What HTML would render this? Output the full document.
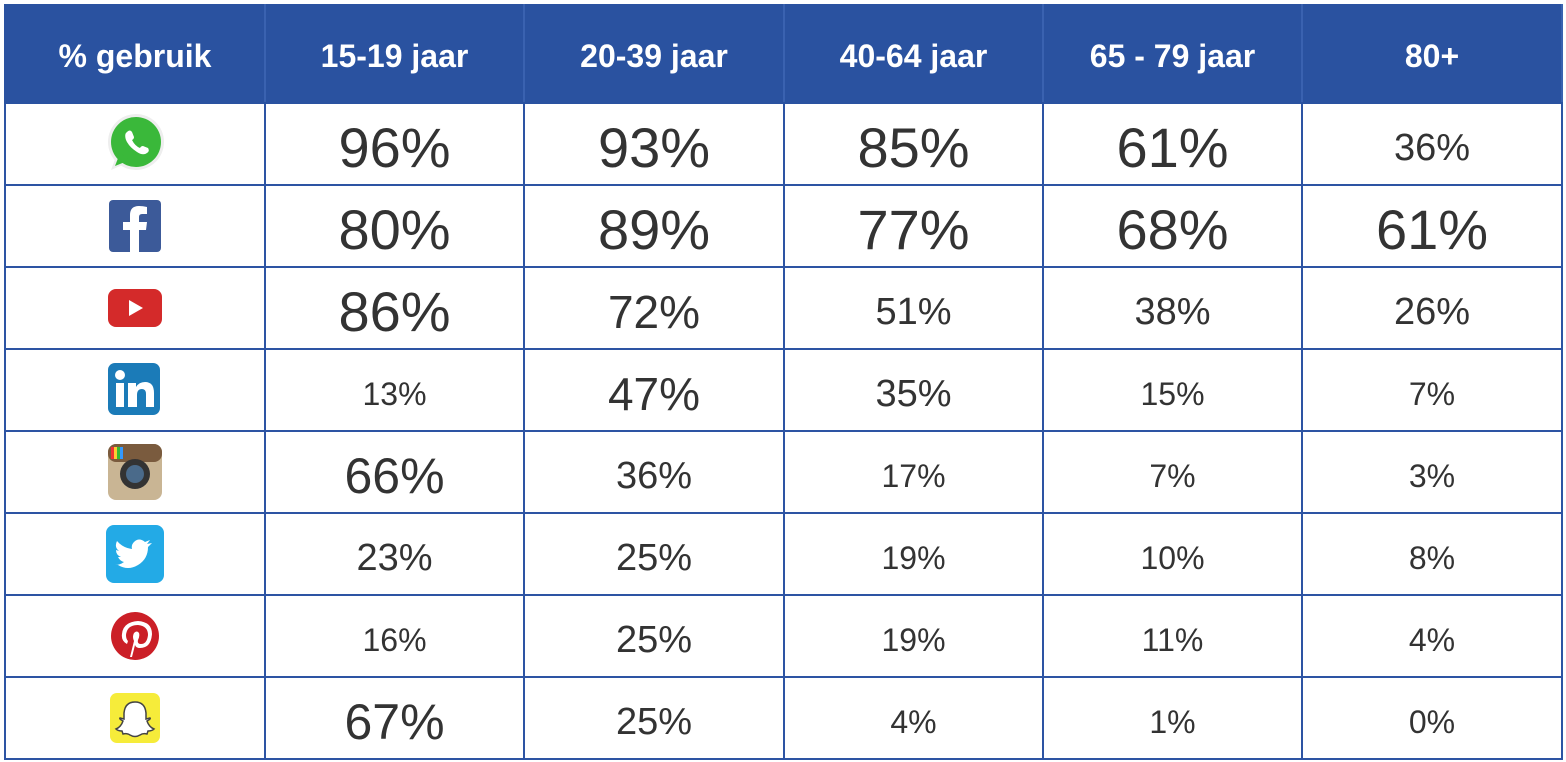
<!DOCTYPE html>
<html><head><meta charset="utf-8"><style>
html,body{margin:0;padding:0;background:#fff;width:1566px;height:762px;overflow:hidden}
table{position:absolute;left:4px;top:4px;border-collapse:collapse;font-family:"Liberation Sans",sans-serif;table-layout:fixed}
td,th{border:2px solid #2d54a3;text-align:center;vertical-align:middle;padding:0;color:#333}
th{background:#2a52a0;color:#fff;font-weight:bold;font-size:32px;height:98px;border-color:#2a52a0;border-right:2px solid #3a62b0;padding-top:5px;box-sizing:border-box}
td{height:82px;line-height:1;padding-top:8px;box-sizing:border-box}
td:first-child{padding-top:0}
.L{font-size:56px}.ML{font-size:50px}.M{font-size:46px}.S{font-size:38px}.X{font-size:32px}
svg{display:block;margin:0 auto}
</style></head><body>
<table>
<colgroup><col style="width:260px"><col style="width:259px"><col style="width:260px"><col style="width:259px"><col style="width:259px"><col style="width:260px"></colgroup>
<tr><th>% gebruik</th><th>15-19 jaar</th><th>20-39 jaar</th><th>40-64 jaar</th><th>65 - 79 jaar</th><th>80+</th></tr>
<tr><td><svg width="64" height="64" viewBox="0 0 64 64"><circle cx="33" cy="30" r="28" fill="#eee"/><path d="M8 58 L14 42 L26 50Z" fill="#eee"/><circle cx="33" cy="30" r="25" fill="#3ab83a"/><path d="M12 54 L17 41 L27 48Z" fill="#3ab83a"/><path d="M24 20 q3-3 5 0 l2 5 q0 2-2 3 q3 6 8 8 q1-2 3-2 l5 2 q2 3-1 5 q-4 3-10-1 q-8-5-11-12 q-2-6 1-8z" fill="#fff"/></svg></td><td class="L">96%</td><td class="L">93%</td><td class="L">85%</td><td class="L">61%</td><td class="S">36%</td></tr>
<tr><td><svg width="52" height="52" viewBox="0 0 52 52"><rect width="52" height="52" rx="4" fill="#3c5a99"/><path d="M30 52 V30 h7 l1-8 h-8 v-5 q0-3 3-3 h5 v-7 q-4-1-8-1 q-9 0-9 9 v7 h-7 v8 h7 v22z" fill="#fff"/></svg></td><td class="L">80%</td><td class="L">89%</td><td class="L">77%</td><td class="L">68%</td><td class="L">61%</td></tr>
<tr><td><svg width="54" height="38" viewBox="0 0 54 38"><rect width="54" height="38" rx="8" fill="#d42a2a"/><path d="M21 11 L35 19 L21 27Z" fill="#fff"/></svg></td><td class="L">86%</td><td class="M">72%</td><td class="S">51%</td><td class="S">38%</td><td class="S">26%</td></tr>
<tr><td><svg width="54" height="54" viewBox="0 0 54 54"><rect width="52" height="52" rx="7" fill="#1b7bb8"/><rect x="8" y="20" width="8" height="24" fill="#fff"/><circle cx="12" cy="12" r="5" fill="#fff"/><path d="M20 20 h8 v4 q3-5 9-5 q9 0 9 11 v14 h-8 v-13 q0-5-4-5 q-5 0-5 6 v12 h-9z" fill="#fff"/></svg></td><td class="X">13%</td><td class="M">47%</td><td class="S">35%</td><td class="X">15%</td><td class="X">7%</td></tr>
<tr><td><svg width="54" height="56" viewBox="0 0 54 56"><rect width="54" height="56" rx="8" fill="#c9b594"/><rect width="54" height="18" rx="8" fill="#7a5b3e"/><rect x="3" y="3" width="3" height="12" fill="#e33"/><rect x="6" y="3" width="3" height="12" fill="#fc3"/><rect x="9" y="3" width="3" height="12" fill="#3b3"/><rect x="12" y="3" width="3" height="12" fill="#39f"/><circle cx="27" cy="30" r="15" fill="#333"/><circle cx="27" cy="30" r="9" fill="#4a6a8a"/></svg></td><td class="ML">66%</td><td class="S">36%</td><td class="X">17%</td><td class="X">7%</td><td class="X">3%</td></tr>
<tr><td><svg width="58" height="58" viewBox="0 0 58 58"><rect width="58" height="58" rx="8" fill="#23aae6"/><path d="M12 40 q10 6 20 0 q10-6 10-18 l4-4 l-5 1 l3-4 l-5 2 q-6-5-11 0 q-3 3-2 7 q-9-1-15-8 q-3 6 2 10 l-3-1 q0 5 5 7 l-3 0 q2 4 6 5 q-4 3-9 3z" fill="#fff"/></svg></td><td class="S">23%</td><td class="S">25%</td><td class="X">19%</td><td class="X">10%</td><td class="X">8%</td></tr>
<tr><td><svg width="50" height="50" viewBox="0 0 50 50"><circle cx="25" cy="25" r="24" fill="#cb1f27"/><path d="M20 46 l4-16 q-2-4 0-8 q3-3 5 0 q1 3-1 7 q-1 4 3 4 q6 0 7-9 q0-9-10-10 q-11 0-12 10 q0 4 2 6 l-1 3 q-6-3-5-10 q1-12 16-13 q14 1 14 13 q-1 14-12 14 q-4 0-5-3 l-3 12z" fill="#fff"/></svg></td><td class="X">16%</td><td class="S">25%</td><td class="X">19%</td><td class="X">11%</td><td class="X">4%</td></tr>
<tr><td><svg width="50" height="50" viewBox="0 0 50 50"><rect width="50" height="50" rx="7" fill="#f6ec3a"/><path d="M25 9 q10 0 11 11 v6 l4-1 q1 1-3 3 q2 6 7 8 q-2 2-6 2 l-1 3 q-4-1-7 1 q-5 3-10 0 q-3-2-7-1 l-1-3 q-4 0-6-2 q5-2 7-8 q-4-2-3-3 l4 1 v-6 q1-11 11-11z" fill="#fff" stroke="#444" stroke-width="1.5"/></svg></td><td class="ML">67%</td><td class="S">25%</td><td class="X">4%</td><td class="X">1%</td><td class="X">0%</td></tr>
</table>
</body></html>
